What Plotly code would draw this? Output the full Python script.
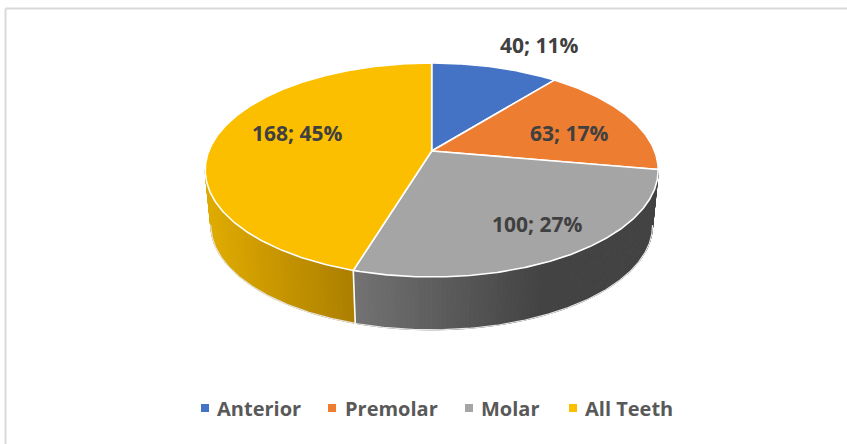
import math
import plotly.graph_objects as go

categories = ["Anterior", "Premolar", "Molar", "All Teeth"]
values = [40, 63, 100, 168]
percents = [11, 17, 27, 45]
colors = ["#4472C4", "#ED7D31", "#A5A5A5", "#FCBF00"]

W, H = 847, 444
CX, CY = 431.7, 151.0
A, B, K = 222.9, 103.6, 0.1776
DROP, SHRINK = 56.0, 0.975
FONT = "Open Sans"
TEXT = "#404040"

label_pos = [(539, 45), (569, 133), (537, 224), (297, 133)]
legend_marker_x = [205, 332, 469, 573]
legend_text_x = [215, 343, 479, 583]
LEGEND_Y = 408


def project(deg, bottom=False):
    t = math.radians(deg)
    X, Y = math.sin(t), math.cos(t)
    d = 1 + K * Y
    s = SHRINK if bottom else 1.0
    return (CX + s * A * X / d, CY + (DROP if bottom else 0) - s * B * Y / d)


def arc(a0, a1, bottom=False, n=None):
    n = n or max(2, int(abs(a1 - a0) * 2))
    return [project(a0 + (a1 - a0) * i / n, bottom) for i in range(n + 1)]


def lerp_color(stops, x):
    if x <= stops[0][0]:
        return "rgb(%d,%d,%d)" % stops[0][1]
    for (x0, c0), (x1, c1) in zip(stops, stops[1:]):
        if x <= x1:
            f = (x - x0) / (x1 - x0)
            return "rgb(%d,%d,%d)" % tuple(round(p + (q - p) * f) for p, q in zip(c0, c1))
    return "rgb(%d,%d,%d)" % stops[-1][1]


grey_stops = [(355, (114, 114, 114)), (540, (67, 67, 67)), (660, (67, 67, 67))]
gold_stops = [(211, (222, 170, 0)), (353, (172, 126, 0))]

total = sum(values)
edges = [0.0]
for v in values:
    edges.append(edges[-1] + 360.0 * v / total)

fig = go.Figure()


def add_poly(pts, fill, line_color=None, line_w=0):
    fig.add_trace(go.Scatter(
        x=[p[0] for p in pts], y=[p[1] for p in pts], mode="lines", fill="toself",
        fillcolor=fill, line=dict(color=line_color or fill, width=line_w),
        hoverinfo="skip", showlegend=False))


def add_line(pts, color, width):
    fig.add_trace(go.Scatter(
        x=[p[0] for p in pts], y=[p[1] for p in pts], mode="lines",
        line=dict(color=color, width=width), hoverinfo="skip", showlegend=False))


# Side wall: gradient strips following the value-derived edges
side_ranges = [(edges[2], edges[3], grey_stops), (edges[3], 260.0, gold_stops)]
for a0, a1, stops in side_ranges:
    steps = int(a1 - a0)
    for i in range(steps):
        s0 = a0 + (a1 - a0) * i / steps
        s1 = a0 + (a1 - a0) * (i + 1) / steps
        top = arc(s0, s1, n=2)
        bot = arc(s1, s0, bottom=True, n=2)
        mx = (top[0][0] + top[-1][0]) / 2
        add_poly(top + bot + [top[0]], lerp_color(stops, mx), line_w=1)

add_line(arc(edges[2], 260.0, bottom=True), "#e6e6e6", 1.2)
add_line([project(edges[3]), project(edges[3], bottom=True)], "#ffffff", 1.6)

# Top faces
for i, c in enumerate(colors):
    pts = [(CX, CY)] + arc(edges[i], edges[i + 1]) + [(CX, CY)]
    add_poly(pts, c, "#ffffff", 1.6)

fig.add_trace(go.Scatter(
    x=legend_marker_x, y=[LEGEND_Y] * 4, mode="markers",
    marker=dict(symbol="square", size=8, color=colors, line=dict(width=0)),
    hoverinfo="skip", showlegend=False))

annotations = []
for (x, y), v, p in zip(label_pos, values, percents):
    annotations.append(dict(x=x, y=y, xref="x", yref="y", text=f"<b>{v}; {p}%</b>",
                            showarrow=False, font=dict(family=FONT, size=21, color=TEXT)))
for x, name in zip(legend_text_x, categories):
    annotations.append(dict(x=x, y=LEGEND_Y, xref="x", yref="y", text=f"<b>{name}</b>",
                            xanchor="left", showarrow=False,
                            font=dict(family=FONT, size=20, color="#595959")))

fig.update_layout(
    width=W, height=H, margin=dict(l=0, r=0, t=0, b=0),
    paper_bgcolor="white", plot_bgcolor="white", showlegend=False,
    xaxis=dict(range=[0, W], visible=False, fixedrange=True),
    yaxis=dict(range=[H, 0], visible=False, fixedrange=True),
    annotations=annotations,
    shapes=[dict(type="line", x0=5.5, x1=W, y0=8.5, y1=8.5, line=dict(color="#D9D9D9", width=2)),
            dict(type="line", x0=5.5, x1=5.5, y0=8.5, y1=H, line=dict(color="#D9D9D9", width=2))],
)
fig.write_html("out.html", config={"displayModeBar": False},
               post_script="document.body.style.margin='0';document.body.style.overflow='hidden';")
